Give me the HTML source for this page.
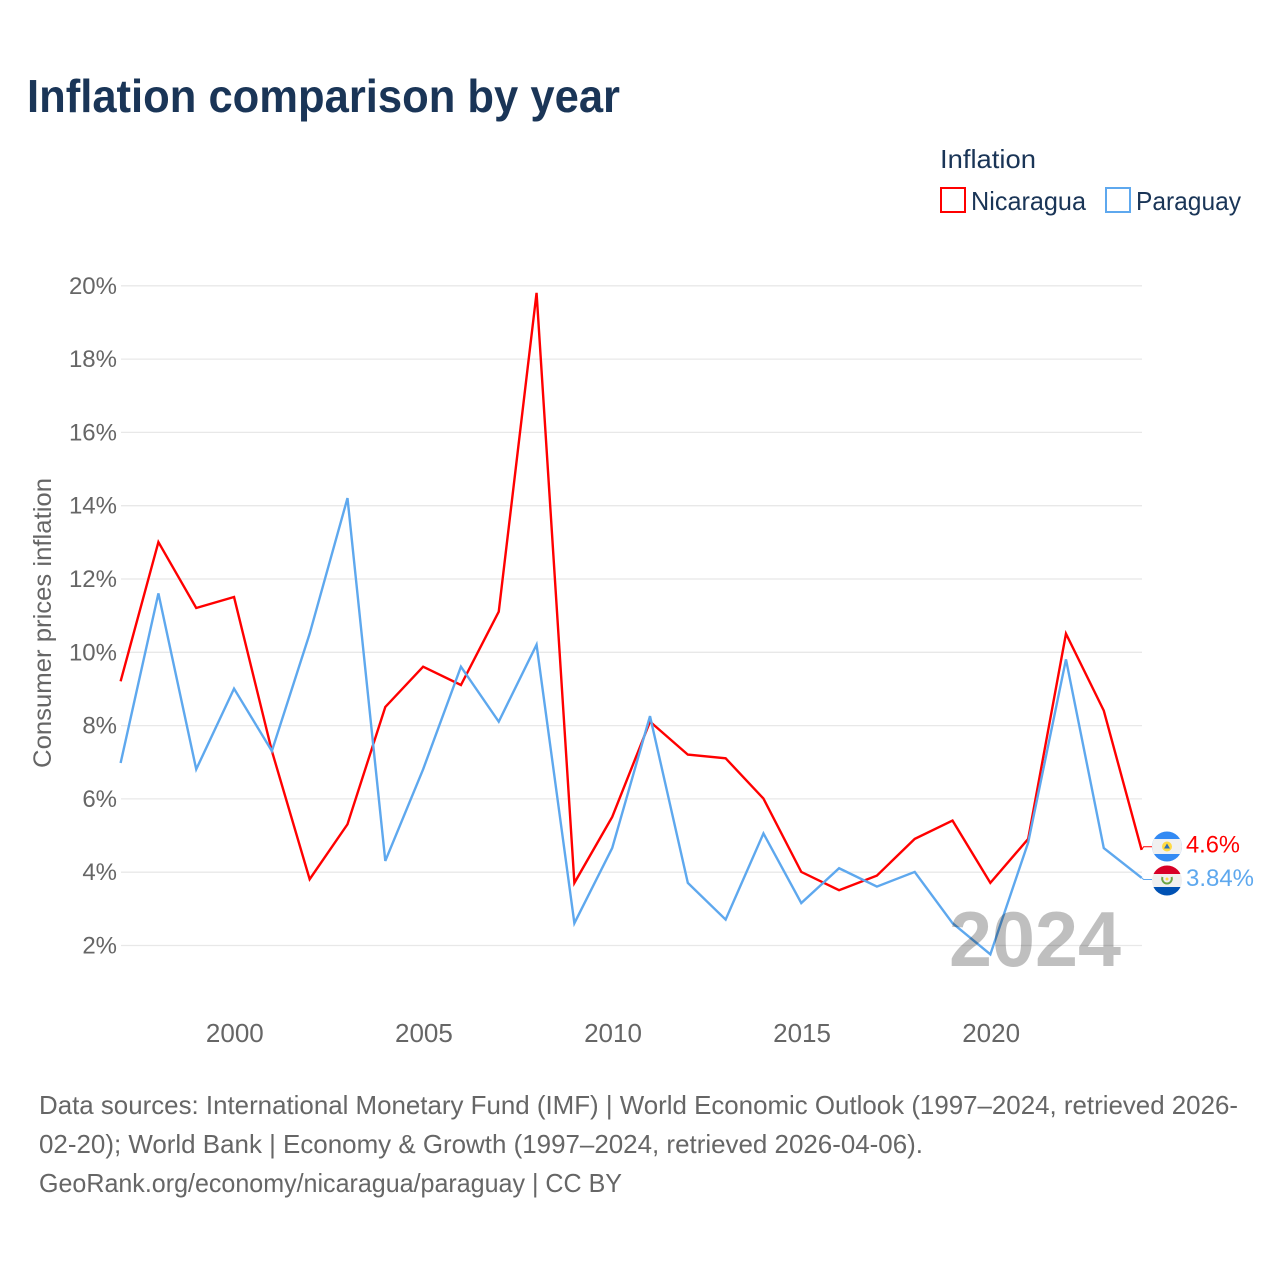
<!DOCTYPE html>
<html lang="en">
<head>
<meta charset="utf-8">
<title>Inflation comparison by year</title>
<style>
html,body{margin:0;padding:0;background:#fff;}
svg{display:block;font-family:"Liberation Sans",sans-serif;}
</style>
</head>
<body>
<svg id="chart" width="1280" height="1280" viewBox="0 0 1280 1280" xmlns="http://www.w3.org/2000/svg">
  <rect x="0" y="0" width="1280" height="1280" fill="#ffffff"/>
  <text x="27" y="112" font-size="46" font-weight="700" fill="#1a3557" textLength="593" lengthAdjust="spacingAndGlyphs">Inflation comparison by year</text>

  <g>
    <text x="940" y="168" font-size="26" fill="#1a3557" textLength="96" lengthAdjust="spacingAndGlyphs">Inflation</text>
    <rect x="941" y="188" width="24" height="24" fill="none" stroke="#ff0000" stroke-width="2"/>
    <text x="971" y="210" font-size="26" fill="#1a3557" textLength="115" lengthAdjust="spacingAndGlyphs">Nicaragua</text>
    <rect x="1106" y="188" width="24" height="24" fill="none" stroke="#5ea8ee" stroke-width="2"/>
    <text x="1136" y="210" font-size="26" fill="#1a3557" textLength="105" lengthAdjust="spacingAndGlyphs">Paraguay</text>
  </g>

  <text transform="translate(51,623) rotate(-90)" text-anchor="middle" font-size="25" fill="#666666" textLength="290" lengthAdjust="spacingAndGlyphs">Consumer prices inflation</text>

  <g id="grid"></g>
  <g id="yticks"></g>
  <g id="xticks"></g>
  <g id="series"></g>
  <g id="labels"></g>

  <defs>
    <clipPath id="clip-ni"><circle cx="1167" cy="846.5" r="15"/></clipPath>
    <clipPath id="clip-py"><circle cx="1167" cy="880.5" r="15"/></clipPath>
  </defs>
  <g clip-path="url(#clip-ni)">
    <rect x="1152" y="831" width="30" height="31" fill="#338af3"/>
    <rect x="1152" y="839" width="30" height="15" fill="#f0f0f0"/>
    <circle cx="1167" cy="846.5" r="5" fill="#ffda44"/>
    <polygon points="1167,843.5 1170,848.5 1164,848.5" fill="#2e6fb5"/>
  </g>
  <g clip-path="url(#clip-py)">
    <rect x="1152" y="865" width="30" height="31" fill="#f0f0f0"/>
    <rect x="1152" y="865" width="30" height="9" fill="#d80027"/>
    <rect x="1152" y="887" width="30" height="9" fill="#0052b4"/>
    <path d="M1162.5 877 a4.8 4.8 0 1 0 9 0" fill="none" stroke="#6da544" stroke-width="2"/>
    <circle cx="1167" cy="879" r="1.5" fill="#ffda44"/>
  </g>

  <text x="949" y="966" font-size="78" font-weight="700" fill="#000000" fill-opacity="0.25" textLength="172" lengthAdjust="spacingAndGlyphs">2024</text>

  <g font-size="26" fill="#666666">
    <text x="39" y="1114" textLength="1199" lengthAdjust="spacingAndGlyphs">Data sources: International Monetary Fund (IMF) | World Economic Outlook (1997–2024, retrieved 2026-</text>
    <text x="39" y="1153" textLength="884" lengthAdjust="spacingAndGlyphs">02-20); World Bank | Economy &amp; Growth (1997–2024, retrieved 2026-04-06).</text>
    <text x="39" y="1192" textLength="583" lengthAdjust="spacingAndGlyphs">GeoRank.org/economy/nicaragua/paraguay | CC BY</text>
  </g>
</svg>
<script>
const years = [1997,1998,1999,2000,2001,2002,2003,2004,2005,2006,2007,2008,2009,2010,2011,2012,2013,2014,2015,2016,2017,2018,2019,2020,2021,2022,2023,2024];
const nicaragua = [9.2,13.0,11.2,11.5,7.3,3.8,5.3,8.5,9.6,9.1,11.1,19.8,3.7,5.5,8.1,7.2,7.1,6.0,4.0,3.5,3.9,4.9,5.4,3.7,4.9,10.5,8.4,4.6];
const paraguay = [6.97,11.6,6.8,9.0,7.3,10.5,14.2,4.3,6.8,9.6,8.1,10.2,2.6,4.65,8.25,3.7,2.7,5.05,3.15,4.1,3.6,4.0,2.6,1.75,4.8,9.8,4.65,3.84];
const yTickValues = [2,4,6,8,10,12,14,16,18,20];
const xTickValues = [2000,2005,2010,2015,2020];

const NS = 'http://www.w3.org/2000/svg';
function xScale(year){ return 120.6 + (year - 1997) * (1141.6 - 120.6) / 27; }
function yScale(v){ return 945.2 - (v - 2) * (945.2 - 285.5) / 18; }
function make(tag, attrs, parent, text){
  const el = document.createElementNS(NS, tag);
  for (const k in attrs) el.setAttribute(k, attrs[k]);
  if (text !== undefined) el.textContent = text;
  parent.appendChild(el);
  return el;
}

const gridG = document.getElementById('grid');
const yG = document.getElementById('yticks');
yTickValues.forEach(function(v){
  const line = make('line', {x1:121, x2:1142, y1:yScale(v) + 0.3, y2:yScale(v) + 0.3, stroke:'#e8e8e8', 'stroke-width':1.3}, gridG);
  
  
  const label = make('text', {x:117, y:yScale(v) + 8.3, 'text-anchor':'end', 'font-size':24, fill:'#666666'}, yG, v + '%');
  
  
});

const xG = document.getElementById('xticks');
xTickValues.forEach(function(t){
  const label = make('text', {x:xScale(t) + 0.8, y:1042, 'text-anchor':'middle', 'font-size':26, fill:'#666666'}, xG, String(t));
  
  
});

function pathFor(values){
  return values.map(function(v, i){ return xScale(years[i]).toFixed(2) + ',' + yScale(v).toFixed(2); }).join(' ');
}
const seriesG = document.getElementById('series');
const lineNi = make('polyline', {points:pathFor(nicaragua), fill:'none', stroke:'#ff0000', 'stroke-width':2.4, 'stroke-linejoin':'miter'}, seriesG);


const linePy = make('polyline', {points:pathFor(paraguay), fill:'none', stroke:'#5ea8ee', 'stroke-width':2.4, 'stroke-linejoin':'miter'}, seriesG);



const labelsG = document.getElementById('labels');
const lastNi = nicaragua[nicaragua.length - 1];
const lastPy = paraguay[paraguay.length - 1];
const endX = xScale(years[years.length - 1]);
const connNi = make('polyline', {points:endX + ',' + yScale(lastNi) + ' ' + (endX + 2) + ',846.8 1152,846.8', fill:'none', stroke:'#ff0000', 'stroke-width':1}, labelsG);


const connPy = make('polyline', {points:endX + ',' + yScale(lastPy) + ' ' + (endX + 2) + ',879.5 1152,879.5', fill:'none', stroke:'#5ea8ee', 'stroke-width':1}, labelsG);


const valNi = make('text', {x:1186, y:852.5, 'font-size':24.5, fill:'#ff0000', textLength:54, lengthAdjust:'spacingAndGlyphs'}, labelsG, lastNi + '%');


const valPy = make('text', {x:1186, y:886, 'font-size':24.5, fill:'#5ea8ee', textLength:68, lengthAdjust:'spacingAndGlyphs'}, labelsG, lastPy + '%');


</script>
</body>
</html>
